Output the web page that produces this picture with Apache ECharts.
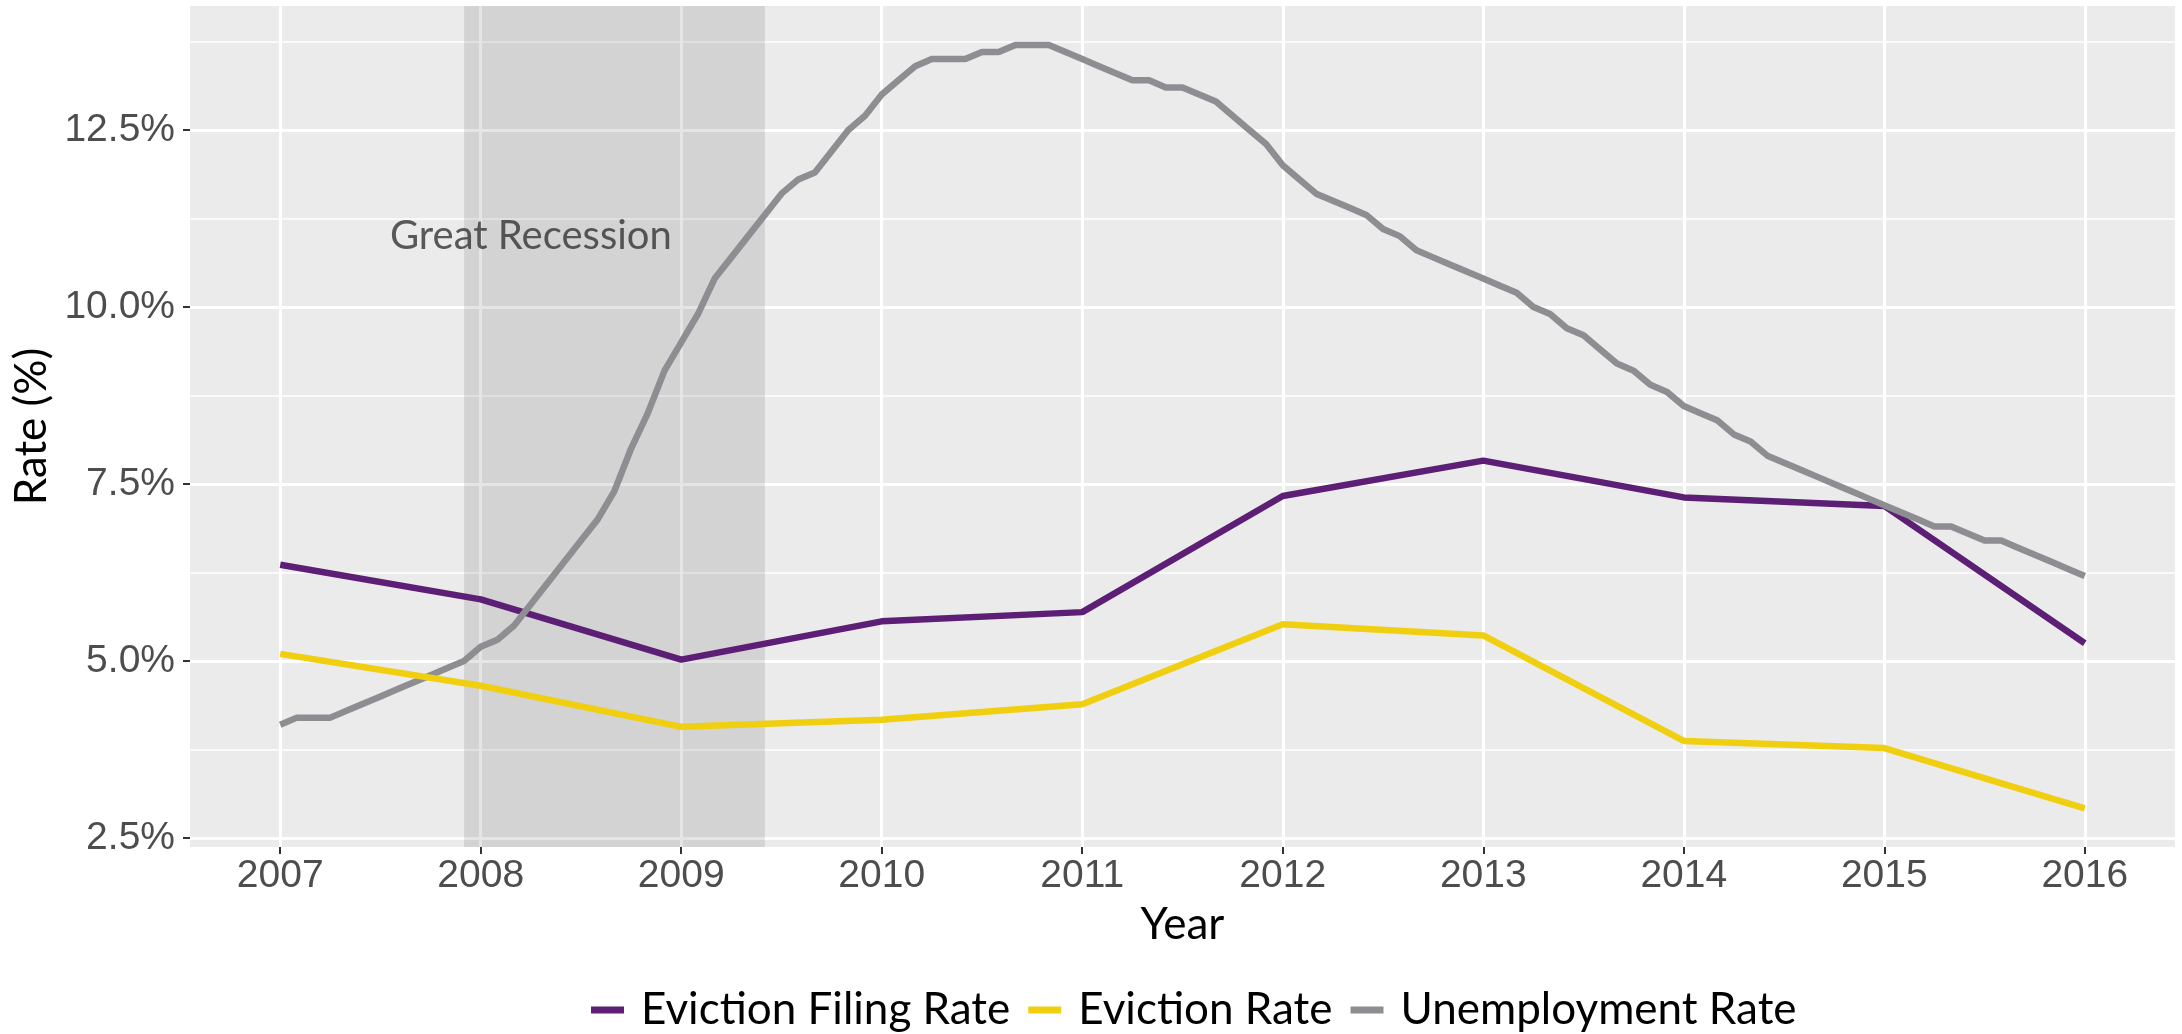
<!DOCTYPE html>
<html>
<head>
<meta charset="utf-8">
<script src="https://cdn.jsdelivr.net/npm/echarts@6/dist/echarts.min.js"></script>
<style>
html,body{margin:0;padding:0;background:#ffffff;}
#chart{width:2182px;height:1034px;}
</style>
</head>
<body>
<div id="chart"></div>
<script>
// ---------- data ----------
const years = [2007, 2008, 2009, 2010, 2011, 2012, 2013, 2014, 2015, 2016];
const evictionFilingRate = [6.36, 5.87, 5.02, 5.56, 5.69, 7.33, 7.83, 7.31, 7.19, 5.25];
const evictionRate = [5.10, 4.65, 4.07, 4.17, 4.39, 5.52, 5.36, 3.87, 3.77, 2.92];
// monthly, Jan 2007 .. Jan 2016
const unemploymentRate = [
  4.1, 4.2, 4.2, 4.2, 4.3, 4.4, 4.5, 4.6, 4.7, 4.8, 4.9, 5.0,
  5.2, 5.3, 5.5, 5.8, 6.1, 6.4, 6.7, 7.0, 7.4, 8.0, 8.5, 9.1,
  9.5, 9.9, 10.4, 10.7, 11.0, 11.3, 11.6, 11.8, 11.9, 12.2, 12.5, 12.7,
  13.0, 13.2, 13.4, 13.5, 13.5, 13.5, 13.6, 13.6, 13.7, 13.7, 13.7, 13.6,
  13.5, 13.4, 13.3, 13.2, 13.2, 13.1, 13.1, 13.0, 12.9, 12.7, 12.5, 12.3,
  12.0, 11.8, 11.6, 11.5, 11.4, 11.3, 11.1, 11.0, 10.8, 10.7, 10.6, 10.5,
  10.4, 10.3, 10.2, 10.0, 9.9, 9.7, 9.6, 9.4, 9.2, 9.1, 8.9, 8.8,
  8.6, 8.5, 8.4, 8.2, 8.1, 7.9, 7.8, 7.7, 7.6, 7.5, 7.4, 7.3,
  7.2, 7.1, 7.0, 6.9, 6.9, 6.8, 6.7, 6.7, 6.6, 6.5, 6.4, 6.3,
  6.2
];
const yTicks = [2.5, 5.0, 7.5, 10.0, 12.5];
const yMinorTicks = [3.75, 6.25, 8.75, 11.25, 13.75];
const seriesNames = ['Eviction Filing Rate', 'Eviction Rate', 'Unemployment Rate'];
const recessionStart = 2007.917; // Dec 2007
const recessionEnd = 2009.417;   // Jun 2009
const recessionLabel = 'Great Recession';
const recessionLabelPos = [2008.25, 11.0];

// ---------- build ----------
const filingData = years.map((y, i) => [y, evictionFilingRate[i]]);
const evictionData = years.map((y, i) => [y, evictionRate[i]]);
const unempData = unemploymentRate.map((v, i) => [years[0] + i / 12, v]);

const X_MIN = 2006.55, X_MAX = 2016.45;
const Y_MIN = 2.373, Y_MAX = 14.25;

const tickFont = 'Liberation Sans, Arial, sans-serif';
const textFont = 'Lato, "Open Sans", sans-serif';

const chart = echarts.init(document.getElementById('chart'), null, {renderer: 'canvas'});
chart.setOption({
  animation: false,
  backgroundColor: '#ffffff',
  grid: {
    left: 190, right: 7, top: 6, bottom: 187,
    containLabel: false, outerBoundsMode: 'none',
    show: true, backgroundColor: '#EBEBEB', borderWidth: 0
  },
  legend: {
    data: seriesNames,
    left: 586, top: 983,
    icon: 'rect', itemWidth: 33, itemHeight: 7, itemGap: 18,
    textStyle: {fontFamily: textFont, fontSize: 44, color: '#000', padding: [0, 0, 0, 12]}
  },
  xAxis: {
    type: 'value', min: X_MIN, max: X_MAX,
    axisLine: {show: false},
    axisTick: {show: true, length: 7, lineStyle: {color: '#333', width: 2}, customValues: years},
    axisLabel: {
      customValues: years, color: '#4D4D4D', fontSize: 39, fontFamily: tickFont, margin: 10,
      formatter: v => String(Math.round(v))
    },
    splitLine: {show: true, lineStyle: {color: '#ffffff', width: 3}},
    name: 'Year', nameLocation: 'middle', nameGap: 56,
    nameTextStyle: {fontFamily: textFont, fontSize: 44, color: '#000'}
  },
  yAxis: [{
    type: 'value', min: Y_MIN, max: Y_MAX,
    axisLine: {show: false},
    axisTick: {show: true, length: 7, lineStyle: {color: '#333', width: 2}, customValues: yTicks},
    axisLabel: {
      customValues: yTicks, color: '#4D4D4D', fontSize: 39, fontFamily: tickFont, margin: 15,
      formatter: v => v.toFixed(1) + '%'
    },
    splitLine: {show: true, lineStyle: {color: '#ffffff', width: 3}},
    name: 'Rate (%)', nameLocation: 'middle', nameGap: 126, nameRotate: 90,
    nameTextStyle: {fontFamily: textFont, fontSize: 44, color: '#000'}
  }, {
    type: 'value', min: Y_MIN, max: Y_MAX, position: 'left',
    axisLine: {show: false},
    axisTick: {show: false, customValues: yMinorTicks},
    axisLabel: {show: false, customValues: yMinorTicks},
    splitLine: {show: true, lineStyle: {color: '#ffffff', width: 1.5}}
  }],
  series: [{
    name: seriesNames[0], type: 'line', data: filingData,
    symbol: 'none', showSymbol: false, z: 3,
    lineStyle: {width: 6.5, color: '#5D1F76'}, itemStyle: {color: '#5D1F76'},
    markArea: {
      silent: true,
      itemStyle: {color: 'rgba(0,0,0,0.1)'},
      data: [[{xAxis: recessionStart}, {xAxis: recessionEnd}]]
    }
  }, {
    name: seriesNames[1], type: 'line', data: evictionData,
    symbol: 'none', showSymbol: false, z: 5,
    lineStyle: {width: 6.5, color: '#EFCF10'}, itemStyle: {color: '#EFCF10'}
  }, {
    name: seriesNames[2], type: 'line', data: unempData,
    symbol: 'none', showSymbol: false, z: 4,
    lineStyle: {width: 6.5, color: '#8E8E92'}, itemStyle: {color: '#8E8E92'}
  }, {
    name: 'annotation', type: 'scatter', data: [recessionLabelPos],
    symbol: 'circle', symbolSize: 1, itemStyle: {color: 'rgba(0,0,0,0)'}, silent: true, z: 6,
    label: {show: true, position: 'inside', formatter: recessionLabel,
      fontFamily: textFont, fontSize: 40, color: '#333'}
  }]
});
</script>
</body>
</html>
